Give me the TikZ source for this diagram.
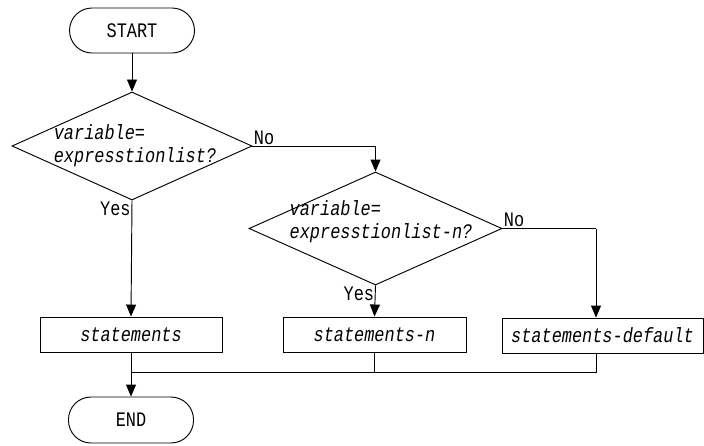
\documentclass[tikz,border=0pt]{standalone}
\usepackage{fontspec}
\setmainfont[FakeStretch=0.82]{Liberation Mono}
\usetikzlibrary{shapes.geometric, arrows.meta}
\tikzstyle{terminal} = [draw, line width=0.8pt, rounded corners=0.675cm, minimum width=3.75cm, minimum height=1.35cm, inner sep=0pt]
\tikzstyle{decision} = [draw, diamond, line width=0.8pt, inner sep=0pt]
\tikzstyle{process}  = [draw, rectangle, line width=0.8pt, minimum height=1.05cm, inner sep=0pt, font=\itshape]
\tikzstyle{condtext} = [align=left, inner sep=0pt, font=\itshape]
\tikzstyle{answer}   = [inner sep=1pt]
\tikzstyle{arrow}    = [line width=0.8pt, -{Triangle[length=0.36cm, width=0.3cm]}]
\tikzstyle{line}     = [line width=0.8pt]

\begin{document}
\fontsize{17.6}{19.6}\selectfont
\begin{tikzpicture}[x=0.03cm, y=-0.03cm]
\useasboundingbox (0,0) rectangle (704,445);

% začátek a první podmínka
\node[terminal] (start) at (132,30.5) {START};
\node[decision, minimum width=7.2cm, minimum height=3.24cm] (d1) at (132,146) {};
\node[condtext] (d1t) at (135,146) {variable=\\expresstionlist?};

% druhá podmínka
\node[decision, minimum width=7.59cm, minimum height=3.39cm] (d2) at (375.5,228.5) {};
\node[condtext] (d2t) at (381,222) {variable=\\expresstionlist-n?};
\coordinate (k3) at (596,228.5);

% příkazy
\node[process, minimum width=5.46cm] (s1) at (131,334.5) {statements};
\node[process, minimum width=5.49cm] (s2) at (374.5,334.5) {statements-n};
\node[process, minimum width=6.03cm] (s3) at (602.5,335.5) {statements-default};

% konec
\node[terminal, minimum height=1.38cm] (end) at (131,420) {END};
\coordinate (bus) at (131,372);

% hrany
\draw[arrow] (start) -- (d1);
\draw[arrow] (d1.east) -| (d2.north);
\draw[arrow] (d1.south) -- (s1.north);
\draw[arrow] (d2.south) -- (s2.north);
\draw[line] (d2.east) -- (k3);
\draw[arrow] (k3) -- (k3 |- s3.north);

% popisky větví
\node[answer, anchor=south west] (no1) at (d1.east) {No};
\node[answer, anchor=north east] (yes1) at (d1.south) {Yes};
\node[answer, anchor=south west] (no2) at (d2.east) {No};
\node[answer, anchor=north east] (yes2) at (d2.south) {Yes};

% sběrnice ke konci
\draw[arrow] (s1.south) -- (end.north);
\draw[line] (s2.south) -- (s2.south |- bus);
\draw[line] (k3 |- s3.south) -- (k3 |- bus) -- (bus);

\end{tikzpicture}
\end{document}
